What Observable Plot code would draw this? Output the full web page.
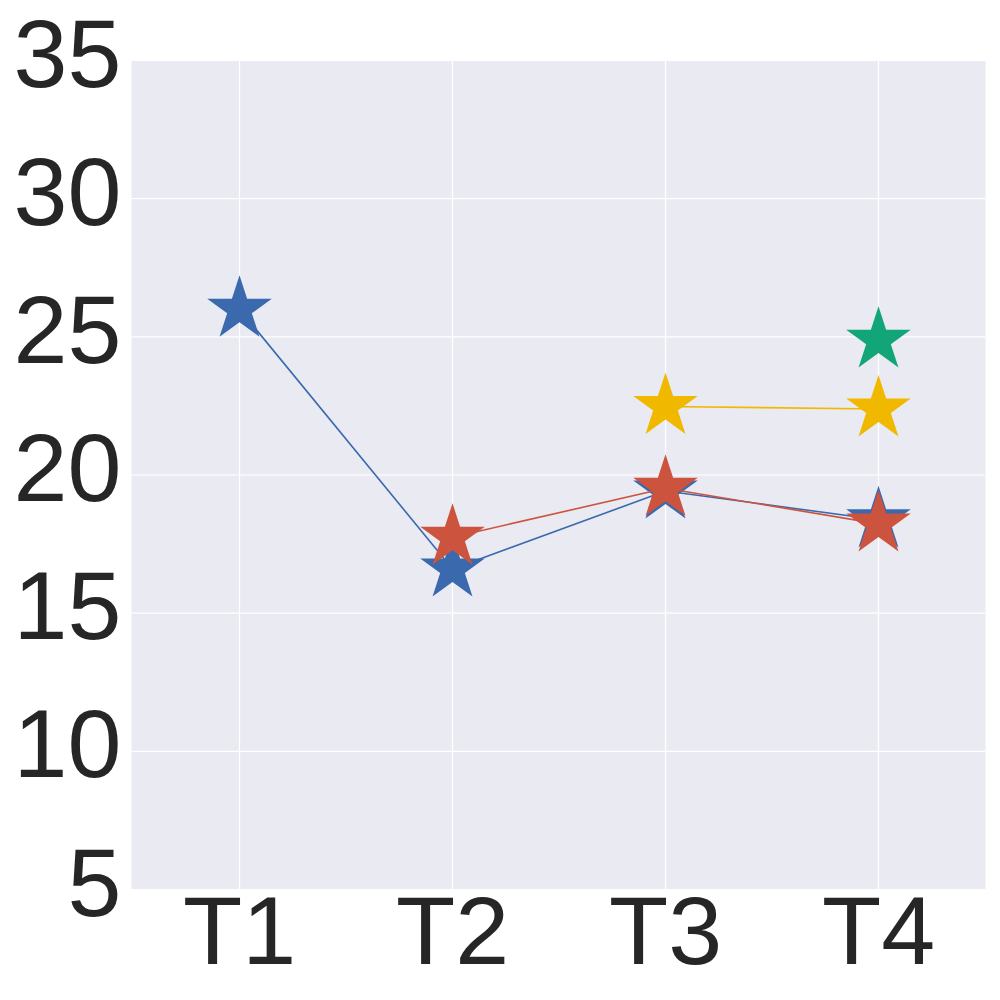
<!DOCTYPE html>
<html>
<head>
<meta charset="utf-8">
<script src="https://cdn.jsdelivr.net/npm/d3@7"></script>
<script src="https://cdn.jsdelivr.net/npm/@observablehq/plot@0.6"></script>
<style>
  html, body { margin: 0; padding: 0; background: white; }
</style>
</head>
<body>
<div id="chart"></div>
<script>
const categories = ["T1", "T2", "T3", "T4"];
const yTicks = [5, 10, 15, 20, 25, 30, 35];
const seriesNames = ["blue", "red", "yellow", "green"];
const seriesColors = ["#3b69ae", "#cc533e", "#f1b800", "#12a577"];
const blueValues = [26.0, 16.6, 19.42, 18.38];
const redValues = [null, 17.75, 19.52, 18.23];
const yellowValues = [null, null, 22.48, 22.39];
const greenValues = [null, null, null, 24.88];

const allValues = [blueValues, redValues, yellowValues, greenValues];

const seriesMarks = [];
allValues.forEach((vals, si) => {
  const rows = categories
    .map((c, i) => ({cat: c, value: vals[i], series: seriesNames[si]}))
    .filter(d => d.value != null);
  seriesMarks.push(Plot.line(rows, {x: "cat", y: "value", stroke: seriesColors[si], strokeWidth: 1.6}));
  seriesMarks.push(Plot.dot(rows, {x: "cat", y: "value", symbol: "star", r: 20.3, fill: seriesColors[si], stroke: "none"}));
});

const chart = Plot.plot({
  width: 1000,
  height: 1000,
  marginLeft: 131,
  marginRight: 15,
  marginTop: 60,
  marginBottom: 111,
  style: {fontFamily: "'Liberation Sans', Arial, sans-serif", color: "#262626", background: "white"},
  x: {type: "point", domain: categories, padding: 0.5},
  y: {domain: [5, 35]},
  marks: [
    Plot.frame({fill: "#eaeaf2", stroke: "none"}),
    Plot.gridX(categories, {stroke: "white", strokeOpacity: 1, strokeWidth: 1.2}),
    Plot.gridY(yTicks, {stroke: "white", strokeOpacity: 1, strokeWidth: 1.2}),
    Plot.axisX({tickSize: 0, tickPadding: 6, fontSize: 97, label: null, fill: "#262626"}),
    Plot.axisY({ticks: yTicks, tickSize: 0, tickPadding: 10, fontSize: 97, dy: -5, label: null, fill: "#262626"}),
    ...seriesMarks
  ]
});
document.getElementById("chart").appendChild(chart);
</script>
</body>
</html>
